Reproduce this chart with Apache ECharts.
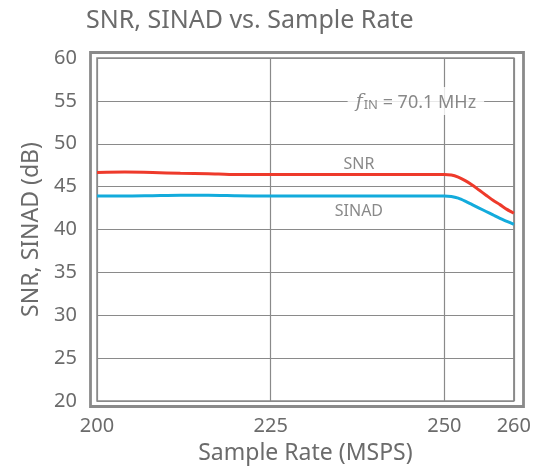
<!DOCTYPE html>
<html>
<head>
<meta charset="utf-8">
<script src="https://cdn.jsdelivr.net/npm/echarts@6/dist/echarts.min.js"></script>
<style>
  html, body { margin: 0; padding: 0; background: #fff; }
  #chart { width: 534px; height: 472px; }
</style>
</head>
<body>
<div id="chart"></div>
<script>
// sample rate (MSPS) and measured values (dB)
const rates = [200, 204, 208, 212, 216, 220, 225, 230, 240, 250, 251, 252, 253, 254, 255, 256, 257, 258, 259, 260]
const snr = [46.65, 46.7, 46.65, 46.55, 46.5, 46.4, 46.4, 46.4, 46.4, 46.4, 46.35, 46.1, 45.7, 45.2, 44.6, 44.0, 43.4, 42.9, 42.35, 41.9]
const sinad = [43.9, 43.9, 43.95, 44.0, 44.0, 43.95, 43.9, 43.9, 43.9, 43.9, 43.85, 43.65, 43.3, 42.9, 42.5, 42.1, 41.7, 41.3, 40.95, 40.6]

// text placed on the plot
const snrLabel = [237.7, 47.6]
const sinadLabel = [237.7, 42.1]
const noteAt = [245.9, 55]

const textColor = '#6b6b6b'
const lineGray = '#8a8a8a'
const font = 'Noto Sans'

const pair = (ys) => rates.map((x, i) => [x, ys[i]])

const chart = echarts.init(document.getElementById('chart'))

const textSeries = (pos, formatter, extra) => ({
  type: 'scatter',
  symbolSize: 0,
  silent: true,
  z: 5,
  data: [pos],
  label: Object.assign({
    show: true,
    position: 'inside',
    formatter,
    color: textColor,
    fontFamily: font,
    fontSize: 16
  }, extra || {})
})

const option = {
  animation: false,
  title: {
    text: 'SNR, SINAD vs. Sample Rate',
    left: 86,
    top: 8,
    padding: 0,
    textStyle: { color: textColor, fontFamily: font, fontSize: 25, fontWeight: 'normal' }
  },
  grid: {
    left: 97,
    right: 16,
    top: 58,
    bottom: 71,
    show: true,
    borderColor: lineGray,
    borderWidth: 1.5,
    backgroundColor: '#fff'
  },
  graphic: [{
    type: 'rect',
    silent: true,
    shape: { x: 90.5, y: 52.5, width: 433, height: 354 },
    style: { fill: 'none', stroke: lineGray, lineWidth: 2.8 }
  }],
  xAxis: {
    type: 'value',
    min: 200,
    max: 260,
    interval: 25,
    name: 'Sample Rate (MSPS)',
    nameLocation: 'middle',
    nameGap: 41,
    nameTextStyle: { color: textColor, fontFamily: font, fontSize: 23 },
    axisLine: { show: false },
    axisTick: { show: false },
    axisLabel: { color: textColor, fontFamily: font, fontSize: 20, margin: 15 },
    splitLine: { lineStyle: { color: lineGray, width: 1.2 } }
  },
  yAxis: {
    type: 'value',
    min: 20,
    max: 60,
    interval: 5,
    name: 'SNR, SINAD (dB)',
    nameLocation: 'middle',
    nameGap: 54,
    nameTextStyle: { color: textColor, fontFamily: font, fontSize: 23 },
    axisLine: { show: false },
    axisTick: { show: false },
    axisLabel: { color: textColor, fontFamily: font, fontSize: 20, margin: 20 },
    splitLine: { lineStyle: { color: lineGray, width: 1.2 } }
  },
  series: [
    {
      name: 'SNR',
      type: 'line',
      data: pair(snr),
      showSymbol: false,
      smooth: 0.25,
      lineStyle: { color: '#ee3a2b', width: 3 },
      z: 3
    },
    {
      name: 'SINAD',
      type: 'line',
      data: pair(sinad),
      showSymbol: false,
      smooth: 0.25,
      lineStyle: { color: '#13abdc', width: 3 },
      z: 3
    },
    textSeries(snrLabel, 'SNR'),
    textSeries(sinadLabel, 'SINAD'),
    textSeries(noteAt, '{f|f}{sub|IN}{t| = 70.1 MHz}', {
      backgroundColor: '#fff',
      padding: [3, 8, 3, 8],
      rich: {
        f: { fontFamily: 'DejaVu Serif', fontStyle: 'italic', fontSize: 19, color: textColor, lineHeight: 22, verticalAlign: 'bottom' },
        sub: { fontFamily: font, fontSize: 13, color: textColor, lineHeight: 22, verticalAlign: 'bottom', padding: [6, 0, 0, 1] },
        t: { fontFamily: font, fontSize: 18, color: textColor, lineHeight: 22, verticalAlign: 'bottom' }
      }
    })
  ]
}

chart.setOption(option)
</script>
</body>
</html>
